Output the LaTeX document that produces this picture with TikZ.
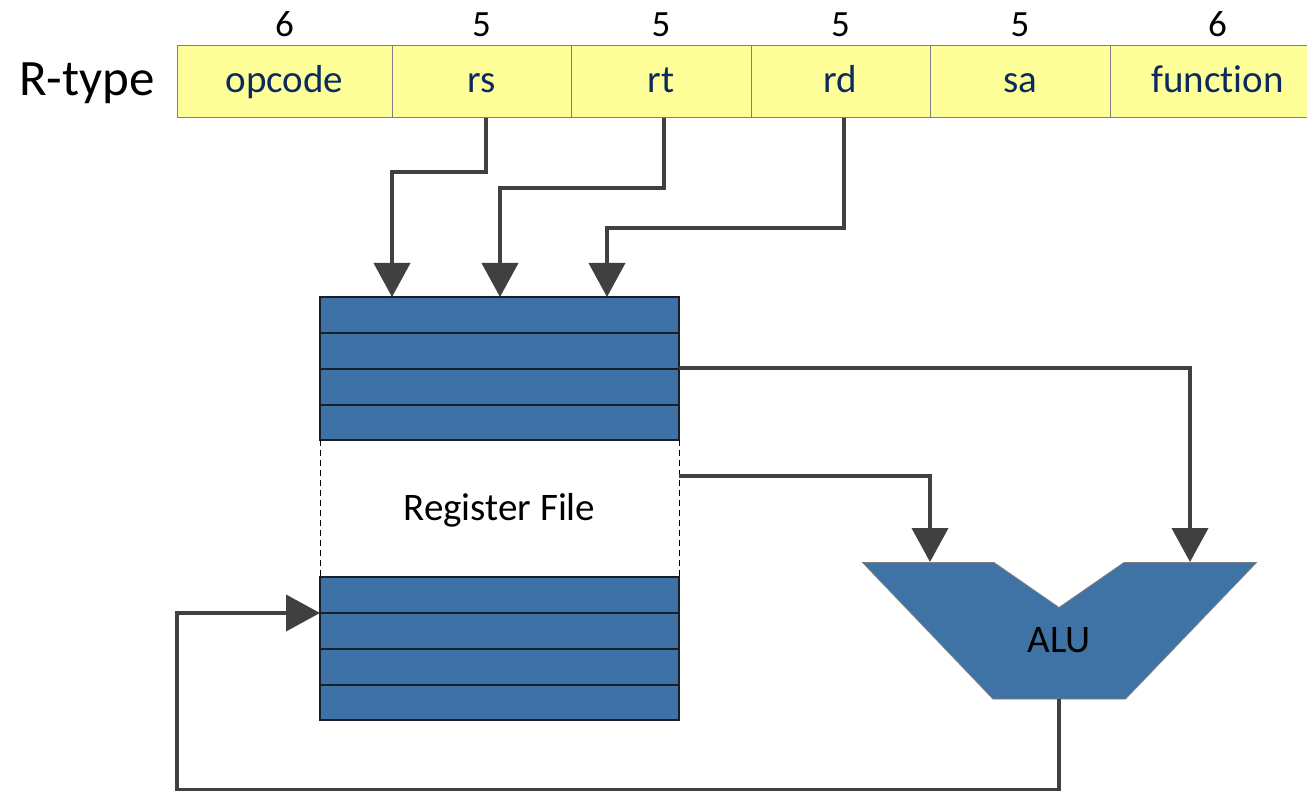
\documentclass[tikz,border=0pt]{standalone}
\usepackage{fontspec}
\setmainfont{Carlito}[Ligatures={NoCommon,NoContextual}]
\usetikzlibrary{arrows.meta}
\definecolor{fieldfill}{HTML}{FFFF99}
\definecolor{fieldtext}{HTML}{0B2A5E}
\definecolor{fieldline}{HTML}{7F7F7F}
\definecolor{rfblue}{HTML}{3E72A6}
\definecolor{rfline}{HTML}{15202B}
\definecolor{wire}{HTML}{404040}
\definecolor{alublue}{HTML}{3F73A6}
\tikzset{
  field/.style={draw=fieldline, line width=1pt, fill=fieldfill, anchor=north west,
    minimum height=72pt, inner sep=0pt, outer sep=0pt, text=fieldtext,
    font=\fontsize{39}{39}\selectfont, text height=30pt, text depth=8pt},
  num/.style={anchor=base, inner sep=0pt, font=\fontsize{37}{37}\selectfont},
  rfblock/.style={draw=rfline, line width=1.3pt, fill=rfblue, anchor=north west,
    minimum width=359pt, minimum height=143pt, inner sep=0pt, outer sep=0pt},
  rowline/.style={draw=rfline, line width=1.3pt},
  sideline/.style={draw=black, line width=0.9pt, dash pattern=on 6pt off 4pt},
  conn/.style={draw=wire, line width=4pt, line join=miter,
    -{Triangle[width=36pt,length=34pt]}},
  lbl/.style={anchor=base, inner sep=0pt, font=\fontsize{39}{39}\selectfont}
}
\begin{document}
\begin{tikzpicture}[x=1pt,y=-1pt]
\useasboundingbox (0,0) rectangle (1307,791);
\begin{scope}
\clip (0,0) rectangle (1307,791);
% instruction fields
\node[field, minimum width=215pt] (opcode) at (177,46) {opcode};
\node[field, minimum width=179pt] (rs) at (392,46) {rs};
\node[field, minimum width=180pt] (rt) at (571,46) {rt};
\node[field, minimum width=179pt] (rd) at (751,46) {rd};
\node[field, minimum width=180pt] (sa) at (930,46) {sa};
\node[field, minimum width=215pt] (fn) at (1110,46) {function};
\end{scope}
% bit widths
\node[num] (n1) at ([yshift=9pt]opcode.north) {6};
\node[num] (n2) at ([yshift=9pt]rs.north) {5};
\node[num] (n3) at ([yshift=9pt]rt.north) {5};
\node[num] (n4) at ([yshift=9pt]rd.north) {5};
\node[num] (n5) at ([yshift=9pt]sa.north) {5};
\node[num] (n6) at ([yshift=9pt]fn.north) {6};
\node[anchor=base east, inner sep=0pt, font=\fontsize{51}{51}\selectfont] (rtype) at (155,96) {R-type};
% register file
\node[rfblock] (rf1) at (320,297) {};
\node[rfblock] (rf2) at (320,577) {};
\draw[rowline] (320,333) -- (679,333) (320,369) -- (679,369) (320,405) -- (679,405);
\draw[rowline] (320,613) -- (679,613) (320,649) -- (679,649) (320,685) -- (679,685);
\draw[sideline] (rf1.south west) -- (rf2.north west);
\draw[sideline] (rf1.south east) -- (rf2.north east);
\node[lbl] (rflabel) at (499.5,520) {Register File};
% ALU
\draw[draw=fieldline, line width=0.8pt, fill=alublue]
  (862.5,562.5) -- (994,562.5) -- (1059,607.5) -- (1124,562.5) -- (1256.5,562.5)
  -- (1125.5,699) -- (993,699) -- cycle;
\node[lbl] (alulabel) at (1059,652) {ALU};
% ports
\coordinate (in1) at (392,297);
\coordinate (in2) at (500,297);
\coordinate (in3) at (607,297);
\coordinate (rdp2) at (679,476);
\coordinate (aluA) at (930,562);
\coordinate (aluB) at (1190,562);
\coordinate (aluout) at (1059,699);
\coordinate (wr) at (320,613);
\coordinate (loopA) at (1059,790);
\coordinate (loopB) at (177,613);
% connectors
\draw[conn] ([xshift=4.5pt]rs.south) -- ++(0,54) -| (in1);
\draw[conn] ([xshift=3pt]rt.south) -- ++(0,70) -| (in2);
\draw[conn] ([xshift=3.5pt]rd.south) -- ++(0,110) -| (in3);
\draw[conn] (rf1.east) -| (aluB);
\draw[conn] (rdp2) -| (aluA);
\draw[conn] (aluout) -- (loopA) -| (loopB) -- (wr);
\end{tikzpicture}
\end{document}
